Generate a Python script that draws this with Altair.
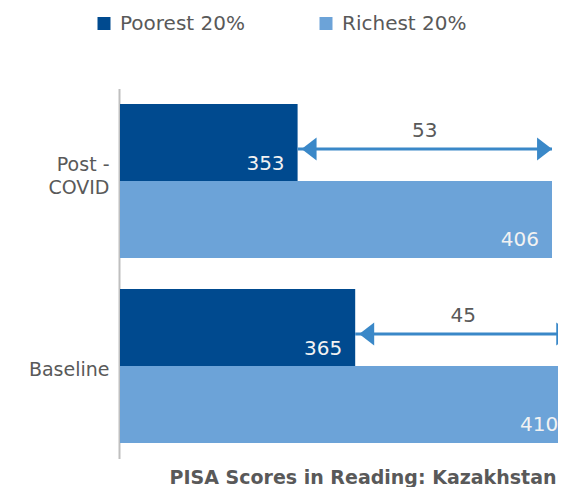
import altair as alt
import pandas as pd

categories = ["Post - COVID", "Baseline"]
series = ["Poorest 20%", "Richest 20%"]
poorest = [353, 365]
richest = [406, 410]
colors = ["#004A8F", "#6CA3D8"]
arrow_color = "#3A88C8"
text_gray = "#595959"

long_df = pd.DataFrame({
    "category": categories * 2,
    "group": [series[0]] * len(categories) + [series[1]] * len(categories),
    "score": poorest + richest,
})
wide_df = pd.DataFrame({"category": categories, "poor": poorest, "rich": richest})

x_scale = alt.Scale(domain=[316, 407.25], zero=False, nice=False)
y_enc = alt.Y(
    "category:N",
    sort=categories,
    scale=alt.Scale(paddingInner=0.1676, paddingOuter=0.0838),
    axis=alt.Axis(
        title=None, ticks=False, grid=False, domainColor="#BFBFBF", domainWidth=2,
        labelFontSize=19, labelColor=text_gray, labelPadding=10, offset=1,
        labelLineHeight=23,
        labelOffset=alt.condition("datum.value == 'Post - COVID'", alt.value(-16), alt.value(4)),
        labelExpr="split(replace(datum.label, '- ', '-\\n'), '\\n')",
    ),
)
y_plain = alt.Y("category:N", sort=categories)
yoff = alt.YOffset("group:N", sort=series, scale=alt.Scale(paddingInner=0, paddingOuter=0))

bars = alt.Chart(long_df).mark_bar(clip=True).encode(
    x=alt.X("score:Q", scale=x_scale, axis=None),
    y=y_enc,
    yOffset=yoff,
    color=alt.Color(
        "group:N",
        scale=alt.Scale(domain=series, range=colors),
        legend=alt.Legend(
            orient="none", legendX=-26, legendY=-75, direction="horizontal", title=None,
            symbolType="square", symbolSize=169, symbolStrokeWidth=0, symbolOpacity=1,
            labelFontSize=20, labelColor=text_gray, labelOffset=6, columnPadding=71,
        ),
    ),
)

value_labels = alt.Chart(long_df).mark_text(
    align="right", baseline="middle", dx=-13, dy=21, fontSize=20, color="#F2F2F2"
).encode(
    x=alt.X("score:Q", scale=x_scale, axis=None),
    y=y_plain,
    yOffset=yoff,
    text="score:Q",
)

arrow_base = alt.Chart(wide_df).transform_calculate(
    mid="(datum.poor + datum.rich) / 2", diff="datum.rich - datum.poor"
)

arrow_line = arrow_base.mark_rule(color=arrow_color, strokeWidth=3, yOffset=-32, clip=True).encode(
    x=alt.X("poor:Q", scale=x_scale, axis=None),
    x2="rich:Q",
    y=y_plain,
)
head_left = arrow_base.mark_point(
    shape="M0.35,0L1.65,-1L1.65,1Z", size=529, filled=True, opacity=1,
    color=arrow_color, yOffset=-32, clip=True,
).encode(x=alt.X("poor:Q", scale=x_scale, axis=None), y=y_plain)
head_right = arrow_base.mark_point(
    shape="M0,0L-1.3,-1L-1.3,1Z", size=529, filled=True, opacity=1,
    color=arrow_color, yOffset=-32, clip=True,
).encode(x=alt.X("rich:Q", scale=x_scale, axis=None), y=y_plain)
diff_labels = arrow_base.mark_text(
    baseline="middle", align="center", dy=-50, fontSize=20, color=text_gray
).encode(
    x=alt.X("mid:Q", scale=x_scale, axis=None),
    y=y_plain,
    text="diff:Q",
)

chart = alt.layer(bars, value_labels, arrow_line, head_left, head_right, diff_labels).properties(
    width=438,
    height=370,
    autosize=alt.AutoSizeParams(type="none"),
    padding={"left": 112, "top": 80.5, "right": 0, "bottom": 28},
    title=alt.TitleParams(
        "PISA Scores in Reading: Kazakhstan", orient="bottom", anchor="middle",
        fontSize=19, fontWeight="bold", color=text_gray, offset=25, dx=24,
        baseline="alphabetic",
    ),
).configure(
    font="DejaVu Sans",
    view=alt.ViewConfig(stroke="transparent", strokeWidth=0),
)

chart.save("out.html", embed_options={"renderer": "svg", "actions": False})
